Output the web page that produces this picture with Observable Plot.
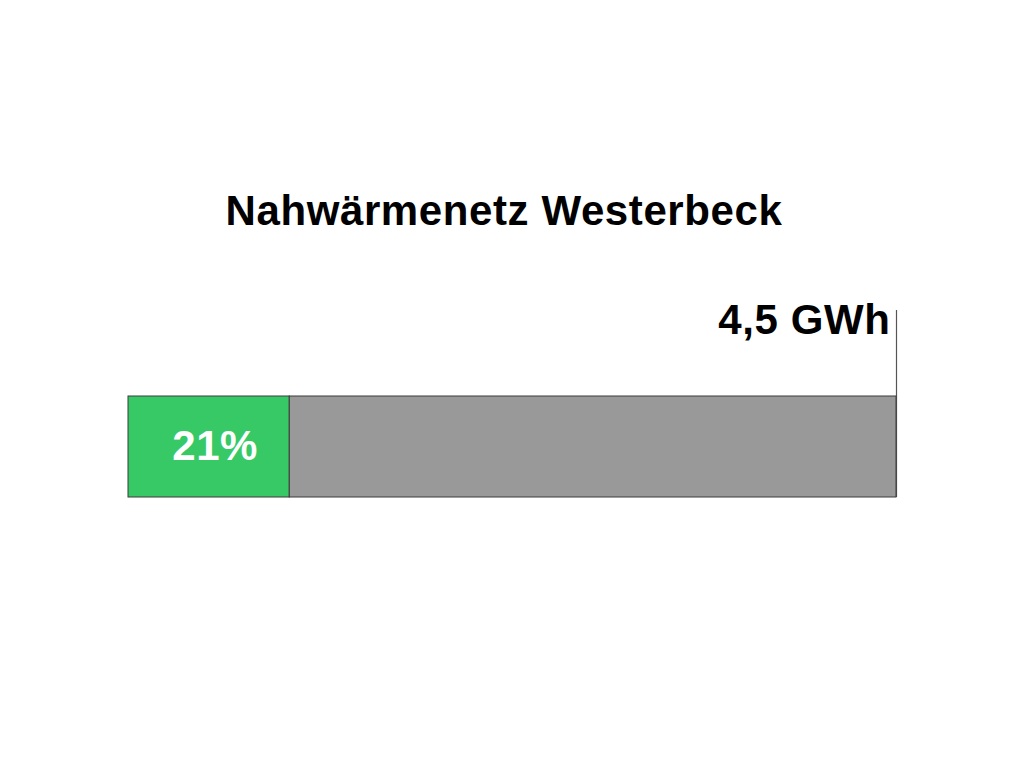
<!DOCTYPE html>
<html>
<head>
<meta charset="utf-8">
<script src="https://cdn.jsdelivr.net/npm/d3@7"></script>
<script src="https://cdn.jsdelivr.net/npm/@observablehq/plot@0.6"></script>
<style>
  html, body { margin: 0; padding: 0; background: #fff; }
  #wrap { position: relative; width: 1024px; height: 768px; overflow: hidden; }
  #title {
    position: absolute; left: 0; top: 190px; width: 1008px; text-align: center;
    font-family: "Liberation Sans", Arial, sans-serif; font-weight: bold;
    font-size: 42px; line-height: 42px; letter-spacing: 0.6px; color: #000;
  }
  #chart { position: absolute; left: 0; top: 0; }
</style>
</head>
<body>
<div id="wrap">
  <div id="chart"></div>
  <div id="title">Nahwärmenetz Westerbeck</div>
</div>
<script>
// Data
const network = "Westerbeck";
const totalGWh = 4.5;
const totalLabel = "4,5 GWh";
const sharePct = 21;
const segmentNames = ["Anteil", "Rest"];
const segmentColors = ["#38C967", "#999999"];

const shareGWh = totalGWh * sharePct / 100;
const segments = [
  {net: network, name: segmentNames[0], x1: 0, x2: shareGWh, color: segmentColors[0]},
  {net: network, name: segmentNames[1], x1: shareGWh, x2: totalGWh, color: segmentColors[1]}
];

const chart = Plot.plot({
  width: 1024,
  height: 768,
  marginLeft: 128,
  marginRight: 128,
  marginTop: 396,
  marginBottom: 271,
  style: {fontFamily: "'Liberation Sans', Arial, sans-serif", background: "#fff", overflow: "visible"},
  x: {domain: [0, totalGWh], axis: null},
  y: {domain: [network], axis: null, padding: 0},
  marks: [
    Plot.ruleX([totalGWh], {stroke: "#555", strokeWidth: 1.2, insetTop: -86}),
    Plot.barX(segments, {x1: "x1", x2: "x2", y: "net", fill: "color", stroke: "#3a3a3a", strokeWidth: 1}),
    Plot.text([segments[0]], {
      x: d => (d.x1 + d.x2) / 2, y: "net", text: d => `${sharePct}%`,
      fill: "#fff", fontSize: 42, fontWeight: "bold", dx: 6, lineAnchor: "middle"
    }),
    Plot.text([totalGWh], {
      x: d => d, frameAnchor: "top", text: () => totalLabel, textAnchor: "end",
      lineAnchor: "bottom", dy: -63, dx: -6, fill: "#000", fontSize: 42, fontWeight: "bold"
    })
  ]
});
chart.querySelectorAll("text").forEach(t => t.style.letterSpacing = "0.6px");
document.getElementById("chart").appendChild(chart);
</script>
</body>
</html>
